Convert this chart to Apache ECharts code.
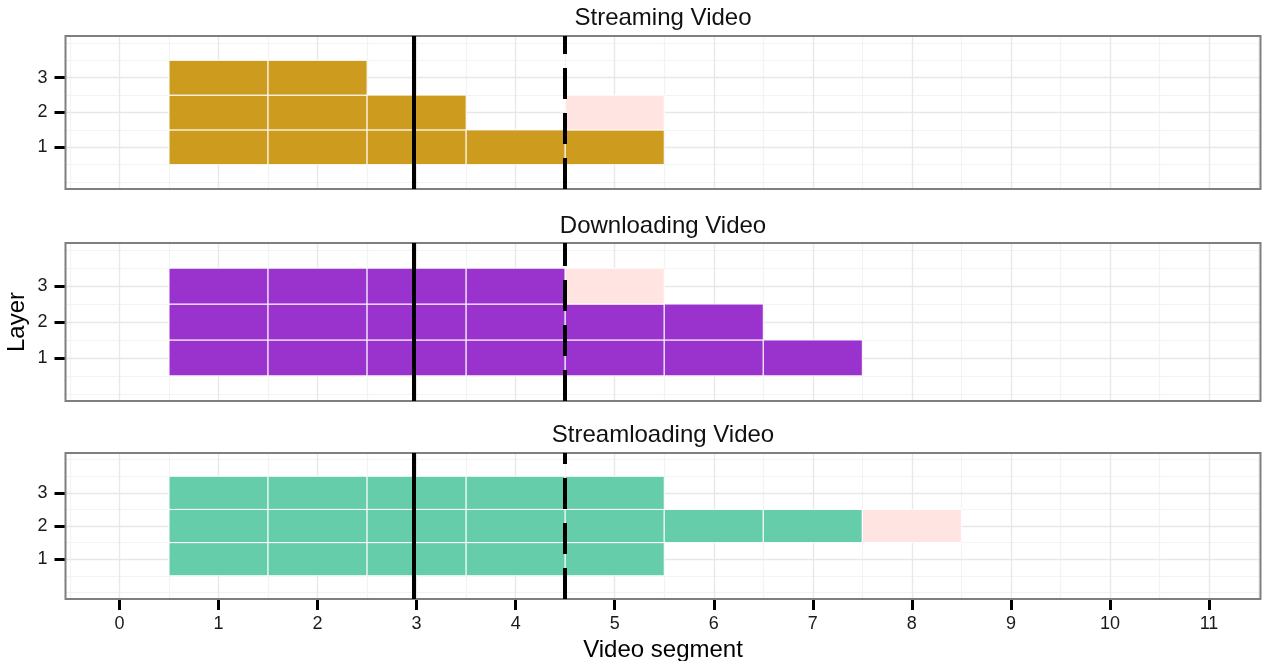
<!DOCTYPE html>
<html>
<head>
<meta charset="utf-8">
<script src="https://cdn.jsdelivr.net/npm/echarts@6/dist/echarts.min.js"></script>
<style>
html,body{margin:0;padding:0;background:#fff;}
#chart{width:1267px;height:661px;}
</style>
</head>
<body>
<div id="chart"></div>
<script>
// ---------------- data ----------------
const panelTitles = ['Streaming Video', 'Downloading Video', 'Streamloading Video'];
const xTickValues = [0, 1, 2, 3, 4, 5, 6, 7, 8, 9, 10, 11];
const yTickValues = [1, 2, 3];
const xMinorGrid = [-0.5, 0.5, 1.5, 2.5, 3.5, 4.5, 5.5, 6.5, 7.5, 8.5, 9.5, 10.5, 11.5];
const yMinorGrid = [0, 0.5, 1.5, 2.5, 3.5, 4];

// tiles as [segment, layer]
const streamingReceived = [[1,1],[2,1],[3,1],[4,1],[5,1],[1,2],[2,2],[3,2],[1,3],[2,3]];
const streamingMissing = [[5,2]];
const downloadingReceived = [[1,1],[2,1],[3,1],[4,1],[5,1],[6,1],[7,1],
                             [1,2],[2,2],[3,2],[4,2],[5,2],[6,2],
                             [1,3],[2,3],[3,3],[4,3]];
const downloadingMissing = [[5,3]];
const streamloadingReceived = [[1,1],[2,1],[3,1],[4,1],[5,1],
                               [1,2],[2,2],[3,2],[4,2],[5,2],[6,2],[7,2],
                               [1,3],[2,3],[3,3],[4,3],[5,3]];
const streamloadingMissing = [[8,2]];

const playbackPosition = 2.97;
const bufferPosition = 4.5;

// ---------------- styling ----------------
const receivedColors = ['#CD9B1D', '#9A32CD', '#66CDAA'];
const missingColor = '#FFE4E1';
const FONT = '"Liberation Sans", Arial, Helvetica, sans-serif';

const receivedSets = [streamingReceived, downloadingReceived, streamloadingReceived];
const missingSets = [streamingMissing, downloadingMissing, streamloadingMissing];

const gridBoxes = [
  { top: 36, height: 153 },
  { top: 243, height: 158 },
  { top: 453, height: 146 }
];
const gridLeft = 65.5, gridWidth = 1195;
const titleY = [18.5, 226, 435];

function tileRenderer(color) {
  return function (params, api) {
    const seg = api.value(0), layer = api.value(1);
    const p0 = api.coord([seg - 0.5, layer + 0.5]);
    const p1 = api.coord([seg + 0.5, layer - 0.5]);
    return {
      type: 'rect',
      shape: { x: p0[0], y: p0[1], width: p1[0] - p0[0], height: p1[1] - p0[1] },
      style: { fill: color, stroke: '#ffffff', lineWidth: 1 }
    };
  };
}

const grids = [], xAxes = [], yAxes = [], series = [], graphics = [];

gridBoxes.forEach((g, i) => {
  grids.push({
    left: gridLeft, width: gridWidth, top: g.top, height: g.height,
    outerBoundsMode: 'none', containLabel: false,
    show: true, borderColor: '#7f7f7f', borderWidth: 2,
    backgroundColor: 'transparent', z: 3
  });
  const bottom = i === 2;
  xAxes.push({
    gridIndex: i, type: 'value', min: -0.545, max: 11.52, position: 'bottom',
    axisLine: { show: false, onZero: false },
    splitLine: { show: false },
    axisTick: { show: bottom, customValues: xTickValues, length: 11,
                lineStyle: { color: '#000', width: 3 } },
    axisLabel: { show: bottom, customValues: xTickValues, margin: 16,
                 fontSize: 18, color: '#1a1a1a', fontFamily: FONT },
    name: bottom ? 'Video segment' : '',
    nameLocation: 'middle', nameGap: 51, nameMoveOverlap: false,
    nameTextStyle: { fontSize: 24, color: '#000', fontFamily: FONT, verticalAlign: 'middle' }
  });
  yAxes.push({
    gridIndex: i, type: 'value', min: -0.2, max: 4.2, position: 'left',
    axisLine: { show: false, onZero: false },
    splitLine: { show: false },
    axisTick: { show: true, customValues: yTickValues, length: 11,
                lineStyle: { color: '#000', width: 3 } },
    axisLabel: { customValues: yTickValues, margin: 18,
                 fontSize: 18, color: '#1a1a1a', fontFamily: FONT },
    name: i === 1 ? 'Layer' : '',
    nameLocation: 'middle', nameGap: 48, nameRotate: 90, nameMoveOverlap: false,
    nameTextStyle: { fontSize: 24, color: '#000', fontFamily: FONT, verticalAlign: 'middle' }
  });

  // grid lines
  const gl = [];
  xMinorGrid.forEach(v => gl.push({ xAxis: v, lineStyle: { color: '#f3f3f3', width: 1.2, type: 'solid' } }));
  yMinorGrid.forEach(v => gl.push({ yAxis: v, lineStyle: { color: '#f3f3f3', width: 1.2, type: 'solid' } }));
  xTickValues.forEach(v => gl.push({ xAxis: v, lineStyle: { color: '#e8e8e8', width: 1.4, type: 'solid' } }));
  yTickValues.forEach(v => gl.push({ yAxis: v, lineStyle: { color: '#e8e8e8', width: 1.4, type: 'solid' } }));
  series.push({
    type: 'line', xAxisIndex: i, yAxisIndex: i, data: [], silent: true,
    markLine: { z: 1, silent: true, animation: false, symbol: ['none', 'none'],
                lineStyle: { type: 'solid' },
                label: { show: false }, emphasis: { disabled: true }, data: gl }
  });

  series.push({
    type: 'custom', xAxisIndex: i, yAxisIndex: i, z: 2, silent: true,
    renderItem: tileRenderer(receivedColors[i]),
    encode: { x: 0, y: 1 },
    data: receivedSets[i]
  });
  series.push({
    type: 'custom', xAxisIndex: i, yAxisIndex: i, z: 2, silent: true,
    renderItem: tileRenderer(missingColor),
    encode: { x: 0, y: 1 },
    data: missingSets[i]
  });

  series.push({
    type: 'line', xAxisIndex: i, yAxisIndex: i, data: [], silent: true,
    markLine: {
      z: 5, silent: true, animation: false, symbol: ['none', 'none'],
      label: { show: false }, emphasis: { disabled: true },
      data: [
        { xAxis: playbackPosition, lineStyle: { color: '#000', width: 4, type: 'solid' } },
        { xAxis: bufferPosition, lineStyle: { color: '#000', width: 4, type: [31, 14] } }
      ]
    }
  });

  graphics.push({
    type: 'text', x: gridLeft + gridWidth / 2, y: titleY[i], silent: true,
    style: { text: panelTitles[i], fontSize: 24, fontFamily: FONT, fill: '#111',
             align: 'center', verticalAlign: 'middle' }
  });
});

const chart = echarts.init(document.getElementById('chart'), null, { renderer: 'canvas' });
chart.setOption({
  animation: false,
  backgroundColor: '#ffffff',
  grid: grids,
  xAxis: xAxes,
  yAxis: yAxes,
  series: series,
  graphic: graphics
});
</script>
</body>
</html>
